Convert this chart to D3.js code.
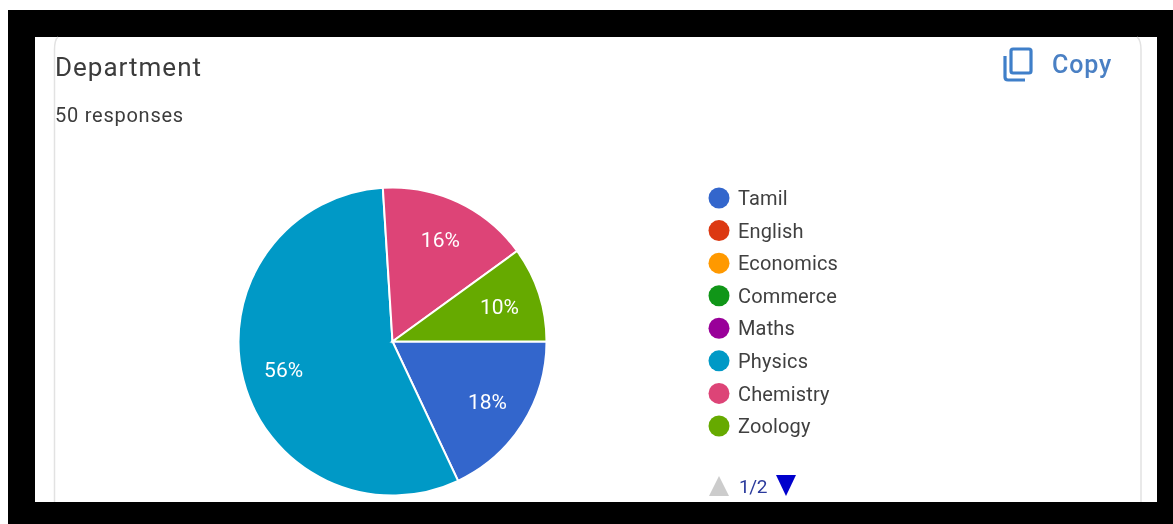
<!DOCTYPE html>
<html><head><meta charset="utf-8">
<script src="https://cdn.jsdelivr.net/npm/d3@7/dist/d3.min.js"></script>
<style>html,body{margin:0;padding:0;background:#fff}svg{display:block;filter:blur(0.6px)}text{font-family:Roboto,sans-serif}</style>
</head><body><svg id="c" width="1173" height="524"></svg>
<script>
const title = "Department";
const subtitle = "50 responses";
const copyLabel = "Copy";
const pagerLabel = "1/2";
const categories = ["Tamil","English","Economics","Commerce","Maths","Physics","Chemistry","Zoology"];
const values = [18,0,0,0,0,56,16,10];
const colors = ["#3366cc","#dc3912","#ff9900","#109618","#990099","#0099c6","#dd4477","#66aa00"];

const svg = d3.select("#c");
// photo frame
svg.append("rect").attr("x",8).attr("y",10).attr("width",1165).attr("height",514).attr("fill","#000");
svg.append("rect").attr("x",35).attr("y",37).attr("width",1122).attr("height",465).attr("fill","#fff");
// card outline
svg.append("path").attr("d","M54.5,502V50Q54.5,40 58,37").attr("fill","none").attr("stroke","#e2e2e2").attr("stroke-width",1.5);
svg.append("path").attr("d","M1141,502V50Q1141,40 1137,37").attr("fill","none").attr("stroke","#e2e2e2").attr("stroke-width",1.5);

svg.append("text").attr("x",55).attr("y",76).attr("font-size",26).attr("letter-spacing",1).attr("fill","#3c3c3c").text(title);
svg.append("text").attr("x",55).attr("y",122).attr("font-size",20).attr("letter-spacing",0.75).attr("fill","#3c3c3c").text(subtitle);

// copy icon
const icon = svg.append("g").attr("fill","none").attr("stroke","#3f7fc9").attr("stroke-width",3.2);
icon.append("rect").attr("x",1011).attr("y",49).attr("width",20).attr("height",24).attr("rx",2);
icon.append("path").attr("d","M1005,56V77Q1005,80 1008,80H1025");
svg.append("text").attr("x",1052).attr("y",73).attr("font-size",25).attr("font-weight",500).attr("letter-spacing",0.9).attr("fill","#4a80c4").text(copyLabel);

// pie
const cx=392.5, cy=341.5, radius=154;
const pie = d3.pie().sort(null).value(d=>d.value).startAngle(Math.PI/2).endAngle(Math.PI/2+2*Math.PI);
const data = categories.map((name,i)=>({name,value:values[i],color:colors[i]}));
const arcs = pie(data).filter(a=>a.data.value>0);
const arc = d3.arc().innerRadius(0).outerRadius(radius);
const labelArc = d3.arc().innerRadius(radius*0.73).outerRadius(radius*0.73);
const g = svg.append("g").attr("transform",`translate(${cx},${cy})`);
g.selectAll("path").data(arcs).join("path").attr("d",arc).attr("fill",d=>d.data.color).attr("stroke","#fff").attr("stroke-width",2);
g.selectAll("text").data(arcs).join("text")
 .attr("transform",d=>`translate(${labelArc.centroid(d)})`)
 .attr("text-anchor","middle").attr("dy","0.36em").attr("font-size",21).attr("fill","#fff")
 .text(d=>d3.format(".0%")(d.data.value/d3.sum(values)));

// legend
const yLeg = d3.scalePoint().domain(categories).range([198,426]);
const leg = svg.append("g").selectAll("g").data(data).join("g").attr("transform",d=>`translate(719,${yLeg(d.name)})`);
leg.append("circle").attr("r",10.5).attr("fill",d=>d.color);
leg.append("text").attr("x",19).attr("dy","0.36em").attr("font-size",20).attr("letter-spacing",0.15).attr("fill","#404040").text(d=>d.name);

// pager
svg.append("path").attr("d","M709,496L719,476L729,496Z").attr("fill","#cccccc");
svg.append("text").attr("x",739).attr("y",493).attr("font-size",19).attr("letter-spacing",-0.4).attr("fill","#2a3a9c").text(pagerLabel);
svg.append("path").attr("d","M776,475H796L786,496Z").attr("fill","#0000cc");
</script></body></html>
